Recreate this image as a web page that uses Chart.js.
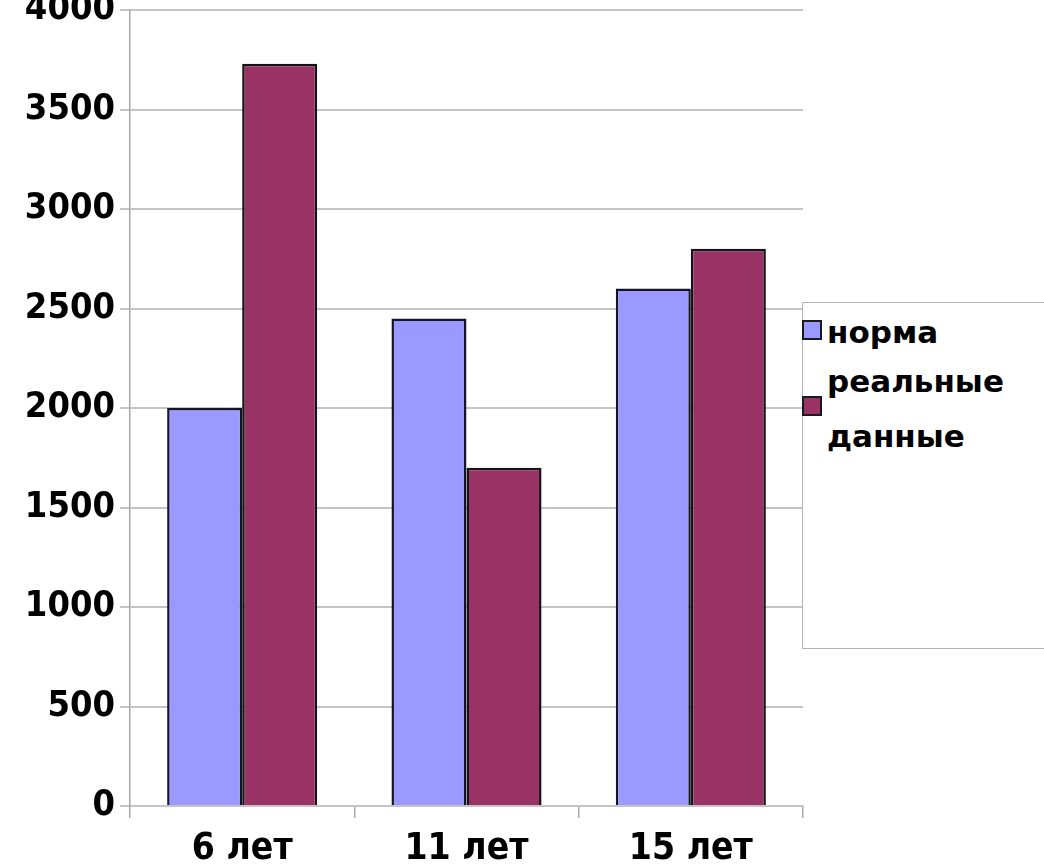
<!DOCTYPE html>
<html>
<head>
<meta charset="utf-8">
<title>норма / реальные данные</title>
<script src="https://cdn.jsdelivr.net/npm/chart.js@4.4.0/dist/chart.umd.min.js"></script>
<style>
  html, body { margin: 0; padding: 0; background: #fff; }
  #wrap { position: relative; width: 1044px; height: 866px; overflow: hidden; }
  #myChart { position: absolute; left: 0; top: 0; }
  #legend {
    position: absolute; left: 802px; top: 302px; width: 260px; height: 347px;
    border: 1px solid #b4b4b4; background: #fff; box-sizing: border-box;
    font-family: 'DejaVu Sans', sans-serif; font-weight: bold; font-size: 31px; color: #000;
  }
  #legend ul { list-style: none; margin: 0; padding: 2px 0 0 0; }
  #legend li { display: flex; align-items: center; line-height: 55px; }
  #legend li + li { margin-top: -6px; }
  #legend .box {
    flex: none; width: 20px; height: 20px; box-sizing: border-box;
    border: 2px solid #1a1a1a; margin-left: -1px; margin-right: 5px;
    transform: translateY(-3px);
  }
  #legend .txt { width: 200px; }
</style>
</head>
<body>
<div id="wrap">
  <canvas id="myChart" width="1044" height="866"></canvas>
  <div id="legend"></div>
</div>
<script>
// data
const categories = ['6 лет', '11 лет', '15 лет'];
const seriesNames = ['норма', 'реальные данные'];
const normaValues = [2000, 2450, 2600];
const realValues = [3730, 1700, 2800];
const yMin = 0;
const yMax = 4000;
const yStep = 500;

const axisFont = { family: "'DejaVu Sans Condensed', 'DejaVu Sans', sans-serif", weight: 'bold', size: 36 };

const ctx = document.getElementById('myChart').getContext('2d');
const myChart = new Chart(ctx, {
    type: 'bar',
    data: {
        labels: categories,
        datasets: [{
            label: seriesNames[0],
            data: normaValues,
            backgroundColor: '#9999ff', // blue
            borderColor: '#141428',
            borderWidth: 2.5
        }, {
            label: seriesNames[1],
            data: realValues,
            backgroundColor: '#993366', // maroon
            borderColor: '#141414',
            borderWidth: 2.5
        }]
    },
    options: {
        responsive: false,
        animation: false,
        layout: { padding: { top: 10, right: 241, left: 0, bottom: 0 } },
        datasets: { bar: { categoryPercentage: 0.669, barPercentage: 1 } },
        plugins: {
            legend: { display: false },
            tooltip: { enabled: false }
        },
        scales: {
            x: {
                grid: { drawOnChartArea: false, drawTicks: true, tickLength: 12, color: '#a8a8a8', lineWidth: 1.5, offset: true },
                border: { display: true, color: '#c4c4c4', width: 2 },
                ticks: { font: { ...axisFont, size: 37 }, color: '#000', padding: 9 },
                afterFit: function (scale) { scale.height = 60; }
            },
            y: {
                min: yMin,
                max: yMax,
                ticks: {
                    stepSize: yStep, font: axisFont, color: '#000', padding: 5,
                    callback: function (value) { return String(value); } // no thousands separator
                },
                grid: { color: '#c4c4c4', lineWidth: 2, tickLength: 10 },
                border: { display: true, color: '#a8a8a8', width: 1.5 },
                afterFit: function (scale) {
                    scale.width = 130;
                    scale.paddingTop = 0;
                    scale.paddingBottom = 0;
                }
            }
        }
    }
});

// legend built from the datasets (the long label wraps like the original)
function buildLegend(chart) {
    var ul = document.createElement('ul');
    chart.data.datasets.forEach(function (ds) {
        var li = document.createElement('li');
        var box = document.createElement('span');
        box.className = 'box';
        box.style.background = ds.backgroundColor;
        var txt = document.createElement('span');
        txt.className = 'txt';
        txt.textContent = ds.label;
        li.appendChild(box);
        li.appendChild(txt);
        ul.appendChild(li);
    });
    document.getElementById('legend').appendChild(ul);
}
buildLegend(myChart);
</script>
</body>
</html>
